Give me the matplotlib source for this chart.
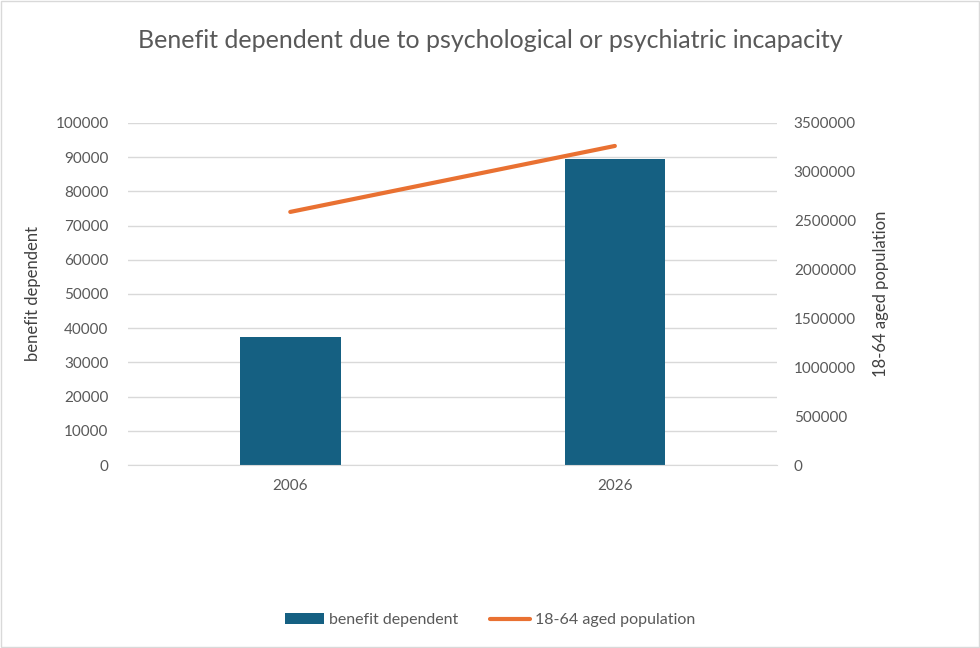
import matplotlib
matplotlib.use('Agg')
import matplotlib.pyplot as plt
from matplotlib.patches import Rectangle
from matplotlib.ticker import StrMethodFormatter

# Data
years = ['2006', '2026']
benefit_dependent = [37300, 89400]
population_18_64 = [2590000, 3265000]

plt.rcParams['font.family'] = ['Lato', 'DejaVu Sans']
text_color = '#595959'

fig = plt.figure(figsize=(9.8, 6.48), dpi=100)
ax = fig.add_axes([0.1306, 0.2824, 0.6624, 0.5278])
ax2 = ax.twinx()

x = range(len(years))
bars = ax.bar(x, benefit_dependent, width=0.31, color='#156082', label='benefit dependent', zorder=2)
line, = ax2.plot(x, population_18_64, color='#E97132', lw=3, solid_capstyle='round', label='18-64 aged population', zorder=3)

ax.set_xlim(-0.5, 1.5)
ax.set_ylim(0, 100000)
ax.set_yticks(range(0, 100001, 10000))
ax2.set_ylim(0, 3500000)
ax2.set_yticks(range(0, 3500001, 500000))
ax2.yaxis.set_major_formatter(StrMethodFormatter('{x:.0f}'))
ax.set_xticks(list(x))
ax.set_xticklabels(years)

ax.grid(axis='y', color='#d9d9d9', lw=1, zorder=0)
ax.set_axisbelow(True)
for a in (ax, ax2):
    for s in a.spines.values():
        s.set_visible(False)
    a.tick_params(length=0, labelsize=11, colors=text_color)
ax.spines['bottom'].set_visible(True)
ax.spines['bottom'].set_color('#d9d9d9')
ax.tick_params(axis='y', pad=14)
ax.tick_params(axis='x', pad=10)
ax2.tick_params(axis='y', pad=12)

ax.set_ylabel('benefit dependent', fontsize=12, color='#404040', labelpad=10)
ax2.set_ylabel('18-64 aged population', fontsize=12, color='#404040', labelpad=12)

fig.suptitle('Benefit dependent due to psychological or psychiatric incapacity',
             y=0.955, fontsize=18, color=text_color)

fig.legend(handles=[bars, line], loc='lower center', bbox_to_anchor=(0.5, 0.01),
           ncol=2, frameon=False, fontsize=11.5, labelcolor=text_color,
           handlelength=2.5, handletextpad=0.3, columnspacing=2.0)

fig.patches.append(Rectangle((0.001, 0.001), 0.998, 0.998, transform=fig.transFigure,
                             fill=False, edgecolor='#d9d9d9', lw=1))

fig.savefig('out.png', dpi=100)
